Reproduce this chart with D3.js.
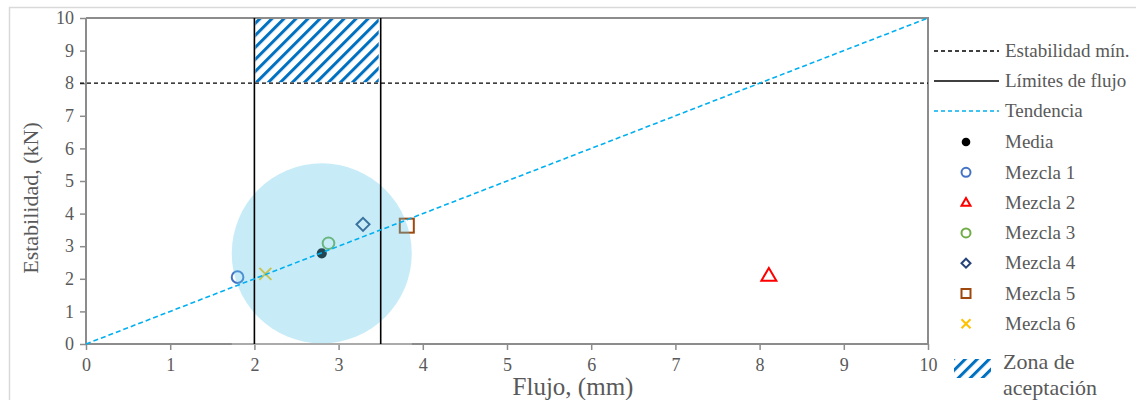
<!DOCTYPE html>
<html>
<head>
<meta charset="utf-8">
<script src="https://cdn.jsdelivr.net/npm/d3@7"></script>
<style>
  body { margin: 0; background: #fff; }
  svg { display: block; }
</style>
</head>
<body>
<svg id="chart"></svg>
<script>
// data
var xTicks = [0, 1, 2, 3, 4, 5, 6, 7, 8, 9, 10];
var yTicks = [0, 1, 2, 3, 4, 5, 6, 7, 8, 9, 10];
var mezclaNames = ['Mezcla 1', 'Mezcla 2', 'Mezcla 3', 'Mezcla 4', 'Mezcla 5', 'Mezcla 6'];
var mezclaFlujo = [1.80, 8.11, 2.88, 3.29, 3.81, 2.13];
var mezclaEstab = [2.05, 2.10, 3.09, 3.67, 3.63, 2.15];
var mediaPoint = [2.80, 2.78];
var estabMin = 8;
var limitesFlujo = [2, 3.5];
var tendencia = [[0, 0], [10, 10]];
var zonaFlujo = [2, 3.5];
var zonaEstab = [8, 10];

var FONT = "'Liberation Serif', 'Times New Roman', Times, serif";
var GRAY = '#595959';

var render = (selector) => {
  var W = 1136, H = 400;
  var left = 86, right = 928, top = 18, bottom = 344;

  var x = d3.scaleLinear().domain([0, 10]).range([left, right]);
  var y = d3.scaleLinear().domain([0, 10]).range([bottom, top]);

  var svg = d3.select(selector).attr('width', W).attr('height', H);

  // outer chart border
  svg.append('rect')
    .attr('x', 9.5).attr('y', 7.5).attr('width', W + 10).attr('height', H + 10)
    .attr('fill', 'none').attr('stroke', '#d9d9d9').attr('stroke-width', 1.5);

  // hatch pattern
  var defs = svg.append('defs');
  var pat = defs.append('pattern')
    .attr('id', 'hatch').attr('patternUnits', 'userSpaceOnUse')
    .attr('width', 8.5).attr('height', 8.5)
    .attr('patternTransform', 'rotate(45)');
  pat.append('rect').attr('width', 8.5).attr('height', 8.5).attr('fill', '#fff');
  pat.append('rect').attr('x', 0).attr('width', 3).attr('height', 8.5).attr('fill', '#0070c0');

  /**
   * axes
   */
  var xAxis = d3.axisBottom(x).tickValues(xTicks).tickSize(6).tickPadding(8);
  var yAxis = d3.axisLeft(y).tickValues(yTicks).tickSize(6).tickPadding(6);

  var gx = svg.append('g').attr('transform', `translate(0, ${ bottom })`).call(xAxis);
  var gy = svg.append('g').attr('transform', `translate(${ left }, 0)`).call(yAxis);
  [gx, gy].forEach(g => {
    g.attr('font-family', FONT).attr('font-size', 18);
    g.select('.domain').attr('stroke', '#8c8c8c').attr('stroke-width', 2);
    g.selectAll('.tick line').attr('stroke', '#8c8c8c').attr('stroke-width', 1.5);
    g.selectAll('.tick text').attr('fill', GRAY).style('font-family', FONT);
  });
  gx.select('.domain').attr('d', `M${ left },0H${ right }`);
  gy.select('.domain').attr('d', `M0,${ bottom }V${ top }`);

  // top and right frame
  svg.append('path')
    .attr('d', `M${ x(0) },${ y(10) }H${ x(10) }V${ y(0) }`)
    .attr('fill', 'none').attr('stroke', '#8c8c8c').attr('stroke-width', 2);

  // axis titles
  svg.append('text')
    .attr('x', 573).attr('y', 395).attr('text-anchor', 'middle')
    .attr('fill', GRAY).style('font-family', FONT).style('font-size', '25px')
    .text('Flujo, (mm)');
  svg.append('text')
    .attr('transform', 'translate(38, 198) rotate(-90)').attr('text-anchor', 'middle')
    .attr('fill', GRAY).style('font-family', FONT).style('font-size', '22px')
    .text('Estabilidad, (kN)');

  /**
   * zone, reference lines
   */
  svg.append('rect')
    .attr('x', x(zonaFlujo[0]) + 1).attr('y', y(zonaEstab[1]) + 1)
    .attr('width', x(zonaFlujo[1]) - x(zonaFlujo[0]) - 3)
    .attr('height', y(zonaEstab[0]) - y(zonaEstab[1]) - 2)
    .attr('fill', 'url(#hatch)');

  svg.append('line')
    .attr('x1', x(0) - 6).attr('x2', x(10))
    .attr('y1', y(estabMin)).attr('y2', y(estabMin))
    .attr('stroke', '#000').attr('stroke-width', 1.3).attr('stroke-dasharray', '4,3');

  /**
   * markers
   */
  var symbols = [
    { type: 'circle', color: '#4472c4' },
    { type: 'triangle', color: '#ff0000' },
    { type: 'circle', color: '#70ad47' },
    { type: 'diamond', color: '#264478' },
    { type: 'square', color: '#9e480e' },
    { type: 'cross', color: '#ffc000' }
  ];

  var drawMarker = (g, type, color, s) => {
    if (type === 'circle') {
      g.append('circle').attr('r', s * 0.45).attr('fill', 'none')
        .attr('stroke', color).attr('stroke-width', 2);
    } else if (type === 'dot') {
      g.append('circle').attr('r', s * 0.36).attr('fill', color);
    } else if (type === 'triangle') {
      var h = s * 0.85;
      g.append('path').attr('d', `M0,${ -h * 0.6 }L${ s / 2 },${ h * 0.4 }L${ -s / 2 },${ h * 0.4 }Z`)
        .attr('fill', 'none').attr('stroke', color).attr('stroke-width', 2);
    } else if (type === 'diamond') {
      var d = s * 0.5;
      g.append('path').attr('d', `M0,${ -d }L${ d },0L0,${ d }L${ -d },0Z`)
        .attr('fill', 'none').attr('stroke', color).attr('stroke-width', 2);
    } else if (type === 'square') {
      g.append('rect').attr('x', -s / 2).attr('y', -s / 2).attr('width', s).attr('height', s)
        .attr('fill', 'none').attr('stroke', color).attr('stroke-width', 2);
    } else if (type === 'cross') {
      var c = s / 2;
      g.append('path').attr('d', `M${ -c },${ -c }L${ c },${ c }M${ -c },${ c }L${ c },${ -c }`)
        .attr('fill', 'none').attr('stroke', color).attr('stroke-width', 2);
    }
  };

  var sizes = [13, 15, 13, 13, 14, 12];
  mezclaNames.forEach((name, i) => {
    var g = svg.append('g')
      .attr('transform', `translate(${ x(mezclaFlujo[i]) }, ${ y(mezclaEstab[i]) })`);
    drawMarker(g, symbols[i].type, symbols[i].color, sizes[i]);
  });

  var gm = svg.append('g').attr('transform', `translate(${ x(mediaPoint[0]) }, ${ y(mediaPoint[1]) })`);
  drawMarker(gm, 'dot', '#000', 14);

  // bubble around the mean
  var BUBBLE_R = 90;
  svg.append('circle')
    .attr('cx', x(mediaPoint[0])).attr('cy', y(mediaPoint[1])).attr('r', BUBBLE_R)
    .attr('fill', '#5fc8eb').attr('fill-opacity', 0.35);
  svg.append('line')
    .attr('x1', x(mediaPoint[0]) - BUBBLE_R).attr('x2', x(mediaPoint[0]) + BUBBLE_R)
    .attr('y1', bottom).attr('y2', bottom)
    .attr('stroke', '#fff').attr('stroke-opacity', 0.55).attr('stroke-width', 1.2);

  // flow limits
  svg.selectAll('.limite')
    .data(limitesFlujo)
    .enter().append('line')
      .attr('class', 'limite')
      .attr('x1', d => x(d)).attr('x2', d => x(d))
      .attr('y1', y(0)).attr('y2', y(10))
      .attr('stroke', '#000').attr('stroke-width', 1.6);

  // trend
  svg.append('line')
    .attr('x1', x(tendencia[0][0])).attr('y1', y(tendencia[0][1]))
    .attr('x2', x(tendencia[1][0])).attr('y2', y(tendencia[1][1]))
    .attr('stroke', '#00b0f0').attr('stroke-width', 1.6).attr('stroke-dasharray', '5,3');

  /**
   * legend
   */
  var legend = svg.append('g').attr('class', 'legend');
  var LX1 = 934, LX2 = 999, TX = 1005, MX = 966;
  var addText = (tx, ty, label, size) => legend.append('text')
    .attr('x', tx).attr('y', ty).attr('dy', '.33em')
    .attr('fill', GRAY).style('font-family', FONT).style('font-size', size + 'px')
    .text(label);

  var lineItems = [
    { label: 'Estabilidad mín.', y: 51, color: '#000', dash: '4,3' },
    { label: 'Límites de flujo', y: 81, color: '#000', dash: null },
    { label: 'Tendencia', y: 111, color: '#00b0f0', dash: '4,3' }
  ];
  lineItems.forEach(it => {
    legend.append('line')
      .attr('x1', LX1).attr('x2', LX2).attr('y1', it.y).attr('y2', it.y)
      .attr('stroke', it.color).attr('stroke-width', 1.6)
      .attr('stroke-dasharray', it.dash);
    addText(TX, it.y, it.label, 19);
  });

  var markerItems = [{ label: 'Media', type: 'dot', color: '#000', s: 12 }]
    .concat(mezclaNames.map((n, i) => ({ label: n, type: symbols[i].type, color: symbols[i].color, s: 9 })));
  markerItems.forEach((it, i) => {
    var ly = 142 + i * 30.3;
    var g = legend.append('g').attr('transform', `translate(${ MX }, ${ ly })`);
    drawMarker(g, it.type, it.color, it.type === 'circle' ? 10 : it.s);
    addText(TX, ly, it.label, 19);
  });

  legend.append('rect')
    .attr('x', 954).attr('y', 359).attr('width', 37).attr('height', 19)
    .attr('fill', 'url(#hatch)');
  addText(1003, 362, 'Zona de', 22);
  addText(1003, 388, 'aceptación', 22);
};

render('#chart');
</script>
</body>
</html>
